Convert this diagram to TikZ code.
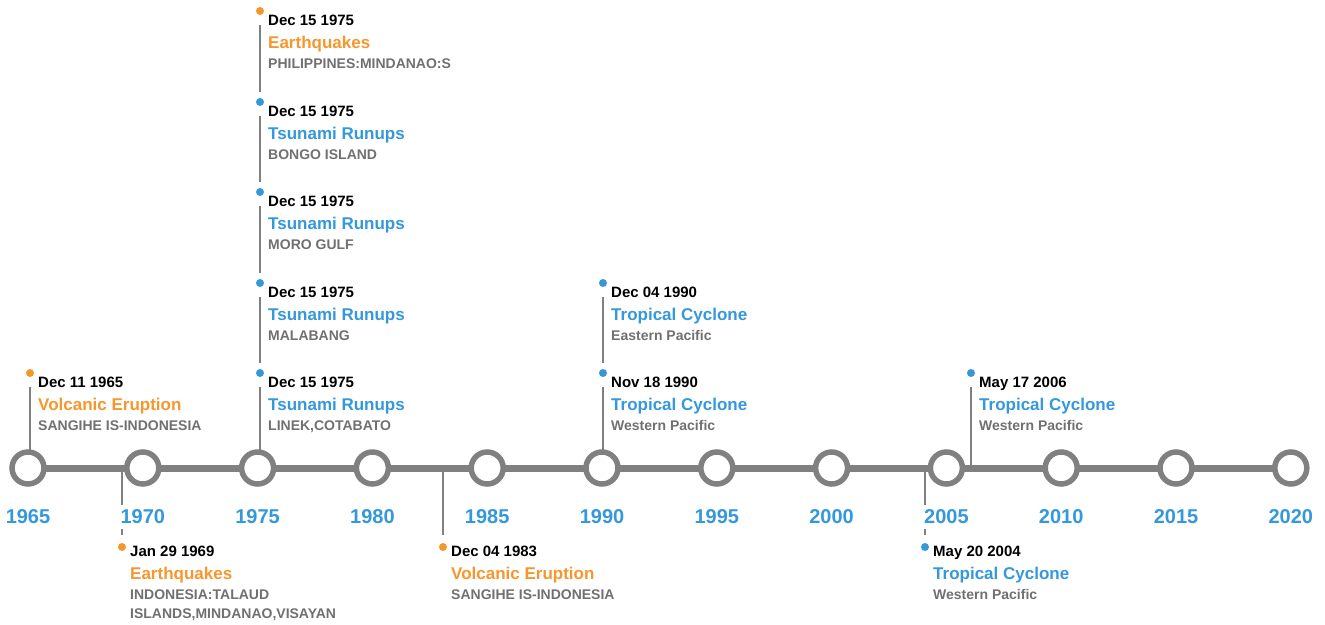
\documentclass[tikz,border=0pt]{standalone}
\usepackage{fontspec}
\setmainfont{Liberation Sans}
\usepackage{tikz}
\usetikzlibrary{positioning}
\definecolor{axisgray}{RGB}{128,128,128}
\definecolor{txtgray}{RGB}{112,112,112}
\definecolor{evorange}{RGB}{247,150,45}
\definecolor{evblue}{RGB}{52,152,219}

\begin{document}
\begin{tikzpicture}[x=1pt, y=-1pt,
    yearring/.style={circle, draw=axisgray, fill=white, line width=5.5pt, minimum size=32pt, inner sep=0pt},
    yearlbl/.style={fill=white, inner xsep=3pt, inner ysep=5pt, text=evblue, font=\bfseries\fontsize{20}{24}\selectfont},
    stem/.style={draw=axisgray, line width=2.5pt},
    evdot/.style={circle, inner sep=0pt, minimum size=8pt},
    datelbl/.style={anchor=base west, inner sep=0pt, font=\bfseries\fontsize{15}{18}\selectfont},
    kindlbl/.style={anchor=base west, inner sep=0pt, font=\bfseries\fontsize{17}{20}\selectfont},
    desclbl/.style={anchor=base west, inner sep=0pt, text=txtgray, font=\bfseries\fontsize{14}{18}\selectfont}]
  \useasboundingbox (0,0) rectangle (1325,624);

  % events: dot x / dot y / text offset / colour / date / kind / place
  \foreach \px/\py/\off/\col/\date/\kind/\place [count=\i] in {
      30/373/14/evorange/Dec 11 1965/Volcanic Eruption/SANGIHE IS-INDONESIA,
      122/547/9/evorange/Jan 29 1969/Earthquakes/INDONESIA:TALAUD,
      260/11/14/evorange/Dec 15 1975/Earthquakes/PHILIPPINES:MINDANAO:S,
      260/102/14/evblue/Dec 15 1975/Tsunami Runups/BONGO ISLAND,
      260/192/14/evblue/Dec 15 1975/Tsunami Runups/MORO GULF,
      260/283/14/evblue/Dec 15 1975/Tsunami Runups/MALABANG,
      260/373/14/evblue/Dec 15 1975/Tsunami Runups/{LINEK,COTABATO},
      443/547/9/evorange/Dec 04 1983/Volcanic Eruption/SANGIHE IS-INDONESIA,
      603/283/14/evblue/Dec 04 1990/Tropical Cyclone/Eastern Pacific,
      603/373/14/evblue/Nov 18 1990/Tropical Cyclone/Western Pacific,
      925/547/9/evblue/May 20 2004/Tropical Cyclone/Western Pacific,
      971/373/14/evblue/May 17 2006/Tropical Cyclone/Western Pacific}
  {
    \node[evdot, fill=\col] (dot\i) at (\px,\py) {};
    \node[datelbl] (date\i) at (\px+8,\py+\off) {\date};
    \node[kindlbl, text=\col] (kind\i) at (\px+8,\py+\off+23) {\kind};
    \node[desclbl] (place\i) at (\px+8,\py+\off+43) {\place};
  }
  \node[desclbl] (place2b) at (130,618) {ISLANDS,MINDANAO,VISAYAN};

  % axis
  \foreach \yr [evaluate=\yr as \px using 28+(\yr-1965)*22.96] in {1965,1970,...,2020}
    \coordinate (p\yr) at (\px,468);
  \draw[axisgray, line width=7pt] (p1965) -- (p2020);

  % stems
  \foreach \a/\b in {3/4,4/5,5/6,6/7,9/10}
    \draw[stem, shorten <=10pt, shorten >=6pt] (dot\a) -- (dot\b);
  \foreach \a in {1,7,10,12}
    \draw[stem, shorten <=10pt] (dot\a) -- (dot\a |- p1965);
  \foreach \a in {2,8,11}
    \draw[stem, shorten >=8pt] (dot\a |- p1965) -- (dot\a);

  % year rings and labels
  \foreach \yr [evaluate=\yr as \px using 28+(\yr-1965)*22.96] in {1965,1970,...,2020}
  {
    \node[yearring] (y\yr) at (p\yr) {};
    \node[yearlbl] (l\yr) at (\px,517) {\yr};
  }
\end{tikzpicture}
\end{document}
